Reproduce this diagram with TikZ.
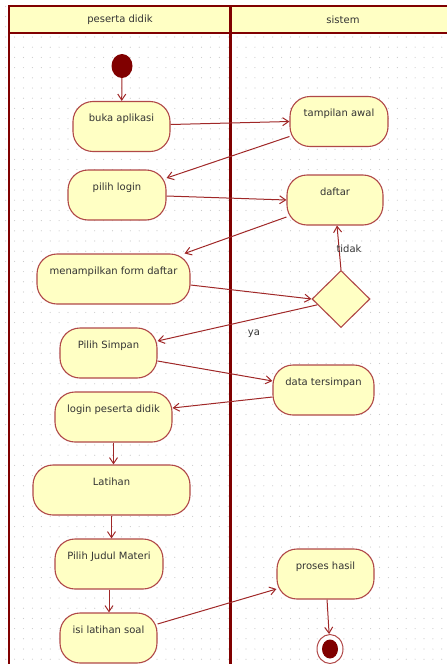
\documentclass[tikz,border=0pt]{standalone}
\usepackage{fontspec}
\setmainfont{DejaVu Sans}
\usetikzlibrary{shapes.geometric,arrows.meta,calc}
\definecolor{lane}{HTML}{800000}
\definecolor{boxline}{HTML}{B04848}
\definecolor{boxfill}{HTML}{FFFFC4}
\definecolor{arrowc}{HTML}{A02828}
\definecolor{txt}{HTML}{333333}
\definecolor{griddot}{HTML}{CCCCCC}

\begin{document}
\begin{tikzpicture}[x=1pt,y=-1pt,
	every node/.style={font=\fontsize{10}{12}\selectfont,text=txt},
	act/.style={draw=boxline,fill=boxfill,line width=1.1pt,rounded corners=20pt,minimum height=50pt,inner xsep=4pt,inner ysep=12pt,text height=8pt,text depth=18pt},
	flow/.style={draw=arrowc,line width=1pt,-{Straight Barb[length=6pt,width=8pt]}}]
\useasboundingbox (0,0) rectangle (447,664);
\foreach \i in {0,...,49}
{
	\foreach \j in {0,...,64}
	{
		\fill[griddot] (5.7+8.9*\i,6.4+10.2*\j) circle (0.6pt);
	}
}
\draw[lane,line width=2pt,fill=boxfill] (9,6) rectangle (460,33);
\draw[lane,line width=2pt] (9,33) -- (9,670);
\draw[lane,line width=3pt] (230,6) -- (230,670);
\node (lanepeserta) at (120,20) {peserta didik};
\node (lanesistem) at (343,20) {sistem};

\node[ellipse,fill=lane,minimum width=21pt,minimum height=24pt,inner sep=0pt] (mulai) at (122,66) {};
\node[act,minimum width=97pt] (buka) at (121.5,126.5) {buka aplikasi};
\node[act,minimum width=98pt] (tampil) at (339,121.5) {tampilan awal};
\node[act,minimum width=98pt] (login) at (117,195) {pilih login};
\node[act,minimum width=96pt] (daftar) at (335,200) {daftar};
\node[act,minimum width=153pt] (form) at (113.5,279) {menampilkan form daftar};
\node[diamond,draw=boxline,fill=boxfill,line width=1.1pt,minimum width=58pt,minimum height=57pt,inner sep=0pt] (cek) at (341,299) {};
\node[act,minimum width=97pt] (simpan) at (108.5,353) {Pilih Simpan};
\node[act,minimum width=101pt] (data) at (323.5,390) {data tersimpan};
\node[act,minimum width=117pt] (lpd) at (113.5,417) {login peserta didik};
\node[act,minimum width=157pt] (latihan) at (111.5,490) {Latihan};
\node[act,minimum width=108pt] (judul) at (109,564) {Pilih Judul Materi};
\node[act,minimum width=97pt] (isi) at (108.5,638) {isi latihan soal};
\node[act,minimum width=97pt] (proses) at (325.5,574) {proses hasil};
\node[ellipse,draw=boxline,fill=white,line width=1pt,minimum width=26pt,minimum height=29pt,inner sep=0pt] (selesai) at (330,649) {};
\fill[lane] (selesai) ellipse [x radius=8pt, y radius=9.5pt];

\draw[flow] (mulai) -- (buka);
\draw[flow] ([yshift=2pt]buka.east) -- (tampil.west);
\draw[flow] ([yshift=-15pt]tampil.west) -- ([yshift=17pt]login.east);
\draw[flow] ([yshift=-1pt]login.east) -- (daftar.west);
\draw[flow] ([yshift=-17pt]daftar.west) -- ([xshift=-6pt]form.north east);
\draw[flow] ([yshift=-6pt]form.east) -- (cek.west);
\draw[flow] (cek.north) -- ([xshift=2pt]daftar.south);
\draw[flow] ($(cek.west)!0.2!(cek.south)$) -- ([yshift=12pt]simpan.east);
\draw[flow] ([yshift=-8pt]simpan.east) -- ([yshift=9pt]data.west);
\draw[flow] ([yshift=-7pt]data.west) -- ([yshift=9pt]lpd.east);
\draw[flow] (lpd.south) -- (lpd.south |- latihan.north);
\draw[flow] (latihan.south) -- (latihan.south |- judul.north);
\draw[flow] (judul.south) -- (judul.south |- isi.north);
\draw[flow] ([yshift=14pt]isi.east) -- ([yshift=-15pt]proses.west);
\draw[flow] (proses) -- (selesai);
\node (lbltidak) at (349,249) {tidak};
\node (lblya) at (254,334) {ya};
\end{tikzpicture}
\end{document}
